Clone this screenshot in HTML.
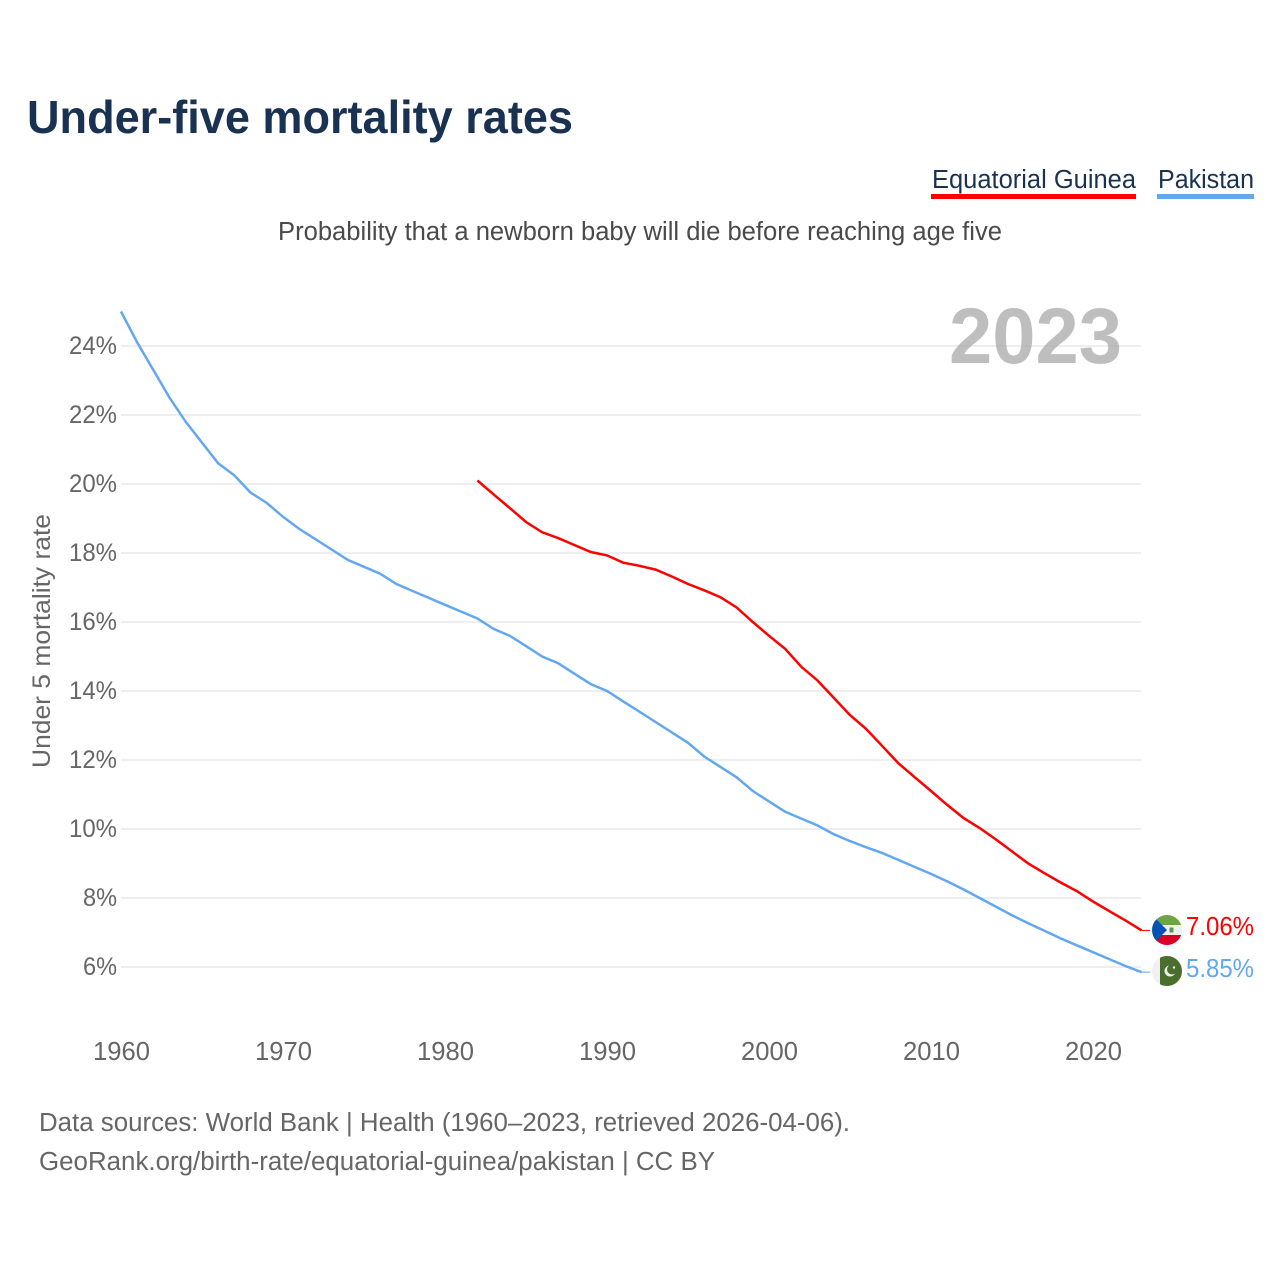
<!DOCTYPE html>
<html lang="en">
<head>
<meta charset="utf-8">
<title>Under-five mortality rates</title>
<style>
html,body{margin:0;padding:0;background:#fff;width:1280px;height:1280px;overflow:hidden}
svg{display:block}
text{font-family:"Liberation Sans",sans-serif}
</style>
</head>
<body>
<svg id="chart" xmlns="http://www.w3.org/2000/svg" width="1280" height="1280" viewBox="0 0 1280 1280">
  <defs>
    <clipPath id="clip-gq"><circle cx="1167" cy="930" r="15"/></clipPath>
    <clipPath id="clip-pk"><circle cx="1167" cy="971" r="15"/></clipPath>
  </defs>
  <text x="27" y="133" font-size="46" font-weight="700" fill="#1a3251" textLength="546" lengthAdjust="spacingAndGlyphs">Under-five mortality rates</text>
  <text x="932" y="188" font-size="25.5" fill="#1a3251" textLength="204" lengthAdjust="spacingAndGlyphs">Equatorial Guinea</text>
  <rect x="931" y="194" width="205" height="5" fill="#ff0000"/>
  <text x="1158" y="188" font-size="25.5" fill="#1a3251" textLength="96" lengthAdjust="spacingAndGlyphs">Pakistan</text>
  <rect x="1157" y="194" width="97" height="5" fill="#63a8ee"/>
  <text x="278" y="240" font-size="25.5" fill="#4a4a4a" textLength="724" lengthAdjust="spacingAndGlyphs">Probability that a newborn baby will die before reaching age five</text>
  <g id="grid"></g>
  <text x="949" y="363" font-size="79" font-weight="700" fill="#a8a8a8" fill-opacity="0.75" textLength="173" lengthAdjust="spacingAndGlyphs">2023</text>
  <g id="yticks"></g>
  <g id="xticks"></g>
  <text transform="translate(50,768) rotate(-90)" font-size="25" fill="#666666" textLength="254" lengthAdjust="spacingAndGlyphs">Under 5 mortality rate</text>
  <g id="series"></g>
  <g clip-path="url(#clip-gq)">
    <rect x="1152" y="915" width="30" height="10" fill="#6da544"/>
    <rect x="1152" y="925" width="30" height="10" fill="#f0f0f0"/>
    <rect x="1152" y="935" width="30" height="10" fill="#d80027"/>
    <polygon points="1152,915 1152,945 1167,930" fill="#0052b4"/>
    <rect x="1169.5" y="927.5" width="4" height="5" fill="#6b8e5a"/>
  </g>
  <g clip-path="url(#clip-pk)">
    <rect x="1152" y="956" width="30" height="30" fill="#f0f0f0"/>
    <rect x="1160" y="956" width="22" height="30" fill="#496e2d"/>
    <circle cx="1170" cy="971" r="5.5" fill="#f0f0f0"/>
    <circle cx="1172" cy="969.5" r="5" fill="#496e2d"/>
    <circle cx="1174" cy="967.5" r="1.2" fill="#f0f0f0"/>
  </g>
  <text id="val-gq" x="1186" y="935" font-size="25.5" fill="#ff0000" textLength="68" lengthAdjust="spacingAndGlyphs"></text>
  <text id="val-pk" x="1186" y="977" font-size="25.5" fill="#63a8ee" textLength="68" lengthAdjust="spacingAndGlyphs"></text>
  <text x="39" y="1131" font-size="25.5" fill="#666666" textLength="811" lengthAdjust="spacingAndGlyphs">Data sources: World Bank | Health (1960–2023, retrieved 2026-04-06).</text>
  <text x="39" y="1170" font-size="25.5" fill="#666666" textLength="676" lengthAdjust="spacingAndGlyphs">GeoRank.org/birth-rate/equatorial-guinea/pakistan | CC BY</text>
</svg>
<script>
const yTickValues = [6, 8, 10, 12, 14, 16, 18, 20, 22, 24];
const xTickYears = [1960, 1970, 1980, 1990, 2000, 2010, 2020];
const pakistanStartYear = 1960;
const pakistanValues = [
  25.0, 24.1, 23.3, 22.5, 21.8, 21.2, 20.6, 20.25, 19.75, 19.45,
  19.05, 18.7, 18.4, 18.1, 17.8, 17.6, 17.4, 17.1, 16.9, 16.7,
  16.5, 16.3, 16.1, 15.8, 15.6, 15.3, 15.0, 14.8, 14.5, 14.2,
  14.0, 13.7, 13.4, 13.1, 12.8, 12.5, 12.1, 11.8, 11.5, 11.1,
  10.8, 10.5, 10.3, 10.1, 9.85, 9.65, 9.47, 9.3, 9.1, 8.9,
  8.7, 8.48, 8.25, 8.0, 7.75, 7.5, 7.27, 7.05, 6.83, 6.63,
  6.43, 6.23, 6.03, 5.85
];
const guineaStartYear = 1982;
const guineaValues = [
  20.1, 19.7, 19.3, 18.9, 18.6, 18.43, 18.23, 18.03, 17.93, 17.72,
  17.63, 17.52, 17.32, 17.1, 16.92, 16.72, 16.42, 16.0, 15.6, 15.22,
  14.7, 14.3, 13.8, 13.3, 12.9, 12.4, 11.9, 11.5, 11.1, 10.7,
  10.32, 10.03, 9.7, 9.35, 9.0, 8.72, 8.45, 8.2, 7.9, 7.62,
  7.35, 7.06
];
const guineaLabel = "7.06%";
const pakistanLabel = "5.85%";

const SVG_NS = "http://www.w3.org/2000/svg";
const xScale = year => 121 + (year - 1960) * 16.2;
const yScale = value => 967 - (value - 6) * 34.5;

const gridGroup = document.getElementById("grid");
const yTickGroup = document.getElementById("yticks");
const xTickGroup = document.getElementById("xticks");
const seriesGroup = document.getElementById("series");

yTickValues.forEach(function (tick) {
  const line = document.createElementNS(SVG_NS, "line");
  
  
  line.setAttribute("x1", 121);
  line.setAttribute("x2", 1141);
  line.setAttribute("y1", yScale(tick));
  line.setAttribute("y2", yScale(tick));
  line.setAttribute("stroke", "#eeeeee");
  line.setAttribute("stroke-width", 2);
  gridGroup.appendChild(line);

  const label = document.createElementNS(SVG_NS, "text");
  
  
  label.setAttribute("x", 117);
  label.setAttribute("y", yScale(tick) + 8);
  label.setAttribute("text-anchor", "end");
  label.setAttribute("font-size", 25);
  label.setAttribute("fill", "#666666");
  label.setAttribute("textLength", tick >= 10 ? 48 : 34);
  label.setAttribute("lengthAdjust", "spacingAndGlyphs");
  label.textContent = tick + "%";
  yTickGroup.appendChild(label);
});

xTickYears.forEach(function (year) {
  const label = document.createElementNS(SVG_NS, "text");
  
  
  label.setAttribute("x", xScale(year) + 0.5);
  label.setAttribute("y", 1060);
  label.setAttribute("text-anchor", "middle");
  label.setAttribute("font-size", 25.6);
  label.setAttribute("fill", "#666666");
  label.textContent = String(year);
  xTickGroup.appendChild(label);
});

function pointsFor(values, startYear) {
  return values.map((v, i) => xScale(startYear + i).toFixed(1) + "," + yScale(v).toFixed(1));
}

const pakistanPoints = pointsFor(pakistanValues, pakistanStartYear);
const pakistanLine = document.createElementNS(SVG_NS, "polyline");


pakistanLine.setAttribute("points", pakistanPoints.join(" "));
pakistanLine.setAttribute("fill", "none");
pakistanLine.setAttribute("stroke", "#63a8ee");
pakistanLine.setAttribute("stroke-width", 2.5);
seriesGroup.appendChild(pakistanLine);

const guineaPoints = pointsFor(guineaValues, guineaStartYear);
const guineaLine = document.createElementNS(SVG_NS, "polyline");


guineaLine.setAttribute("points", guineaPoints.join(" "));
guineaLine.setAttribute("fill", "none");
guineaLine.setAttribute("stroke", "#ff0000");
guineaLine.setAttribute("stroke-width", 2.5);
seriesGroup.appendChild(guineaLine);

const pakistanStub = document.createElementNS(SVG_NS, "line");


pakistanStub.setAttribute("x1", xScale(2023));
pakistanStub.setAttribute("x2", 1150);
pakistanStub.setAttribute("y1", yScale(pakistanValues[pakistanValues.length - 1]));
pakistanStub.setAttribute("y2", yScale(pakistanValues[pakistanValues.length - 1]));
pakistanStub.setAttribute("stroke", "#63a8ee");
pakistanStub.setAttribute("stroke-width", 1);
seriesGroup.appendChild(pakistanStub);

const guineaStub = document.createElementNS(SVG_NS, "line");


guineaStub.setAttribute("x1", xScale(2023));
guineaStub.setAttribute("x2", 1150);
guineaStub.setAttribute("y1", yScale(guineaValues[guineaValues.length - 1]));
guineaStub.setAttribute("y2", yScale(guineaValues[guineaValues.length - 1]));
guineaStub.setAttribute("stroke", "#ff0000");
guineaStub.setAttribute("stroke-width", 1);
seriesGroup.appendChild(guineaStub);

document.getElementById("val-gq").textContent = guineaLabel;
document.getElementById("val-pk").textContent = pakistanLabel;
</script>
</body>
</html>
